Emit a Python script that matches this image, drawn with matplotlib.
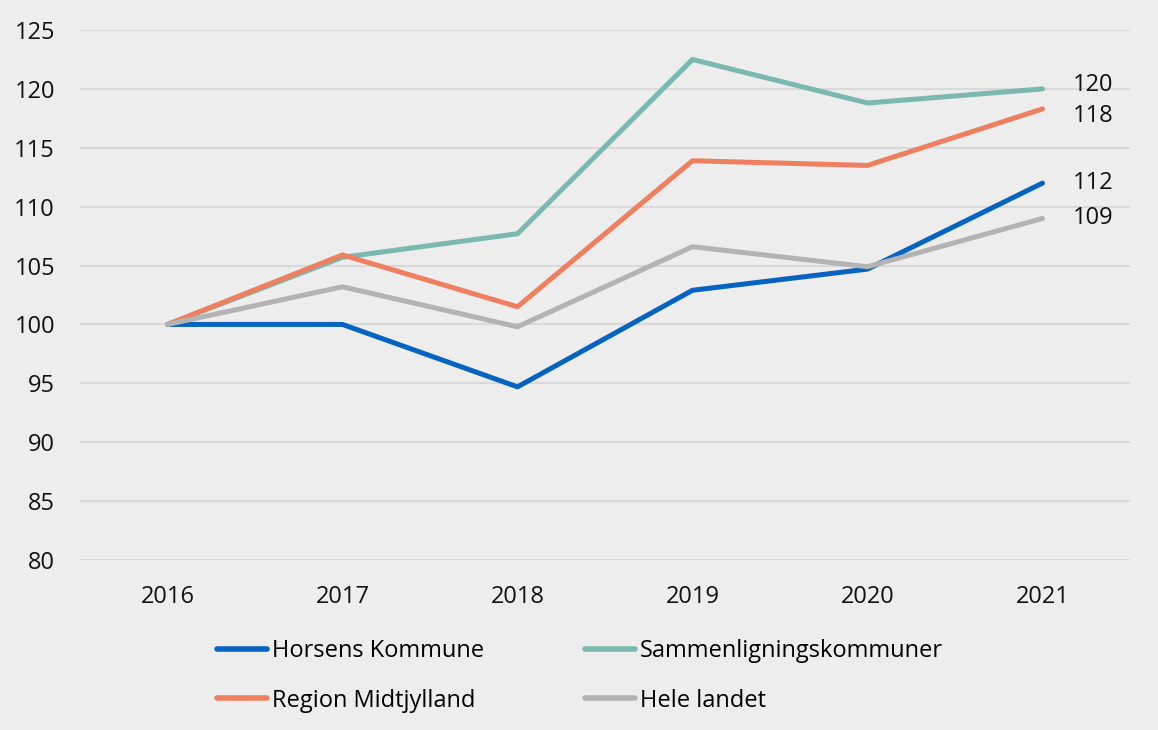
import matplotlib.pyplot as plt
from matplotlib.lines import Line2D

plt.rcParams["font.family"] = ["Open Sans", "DejaVu Sans"]

years = ["2016", "2017", "2018", "2019", "2020", "2021"]
horsens = [100, 100, 94.7, 102.9, 104.7, 112.0]
sammenligning = [100, 105.7, 107.7, 122.5, 118.8, 120.0]
region = [100, 105.9, 101.5, 113.9, 113.5, 118.3]
hele_landet = [100, 103.2, 99.8, 106.6, 104.9, 109.0]

end_labels = ["112", "120", "118", "109"]
end_offsets = [0, 3, -5, 0]

series = [
    ("Horsens Kommune", horsens, "#0563c1"),
    ("Sammenligningskommuner", sammenligning, "#7ab8b1"),
    ("Region Midtjylland", region, "#ee7f5f"),
    ("Hele landet", hele_landet, "#b3b3b3"),
]

bg = "#ededed"
fs = 17
fig = plt.figure(figsize=(11.58, 7.3), dpi=100, facecolor=bg)
ax = fig.add_axes([80 / 1158, 1 - 560 / 730, 1050 / 1158, 530 / 730])
ax.set_facecolor(bg)

x = range(len(years))
for (name, vals, col), lab, off in zip(series, end_labels, end_offsets):
    ax.plot(x, vals, color=col, lw=3.6, solid_capstyle="round", label=name)
    ax.annotate(lab, (x[-1], vals[-1]), xytext=(22, off), textcoords="offset points",
                va="center", ha="left", fontsize=fs, color="#111111")

ax.set_xlim(-0.5, len(years) - 0.5)
ax.set_ylim(80, 125)
ax.set_yticks(range(80, 126, 5))
ax.set_xticks(list(x))
ax.set_xticklabels(years)
ax.grid(axis="y", color="#d9d9d9", lw=1.5)
ax.set_axisbelow(True)
for s in ax.spines.values():
    s.set_visible(False)
ax.tick_params(length=0, labelsize=fs, colors="#111111")
ax.tick_params(axis="y", pad=18)
ax.tick_params(axis="x", pad=18)

handles = [Line2D([], [], color=c, lw=4, solid_capstyle="round") for _, _, c in series]
order = [0, 2, 1, 3]
leg = fig.legend([handles[i] for i in order], [series[i][0] for i in order],
                 ncol=2, loc="center", bbox_to_anchor=(580 / 1158, 1 - 676 / 730),
                 frameon=False, fontsize=fs, handlelength=2.1, handletextpad=0.2,
                 columnspacing=4.3, labelspacing=1.08)

fig.savefig("out.png", dpi=100, facecolor=bg)
